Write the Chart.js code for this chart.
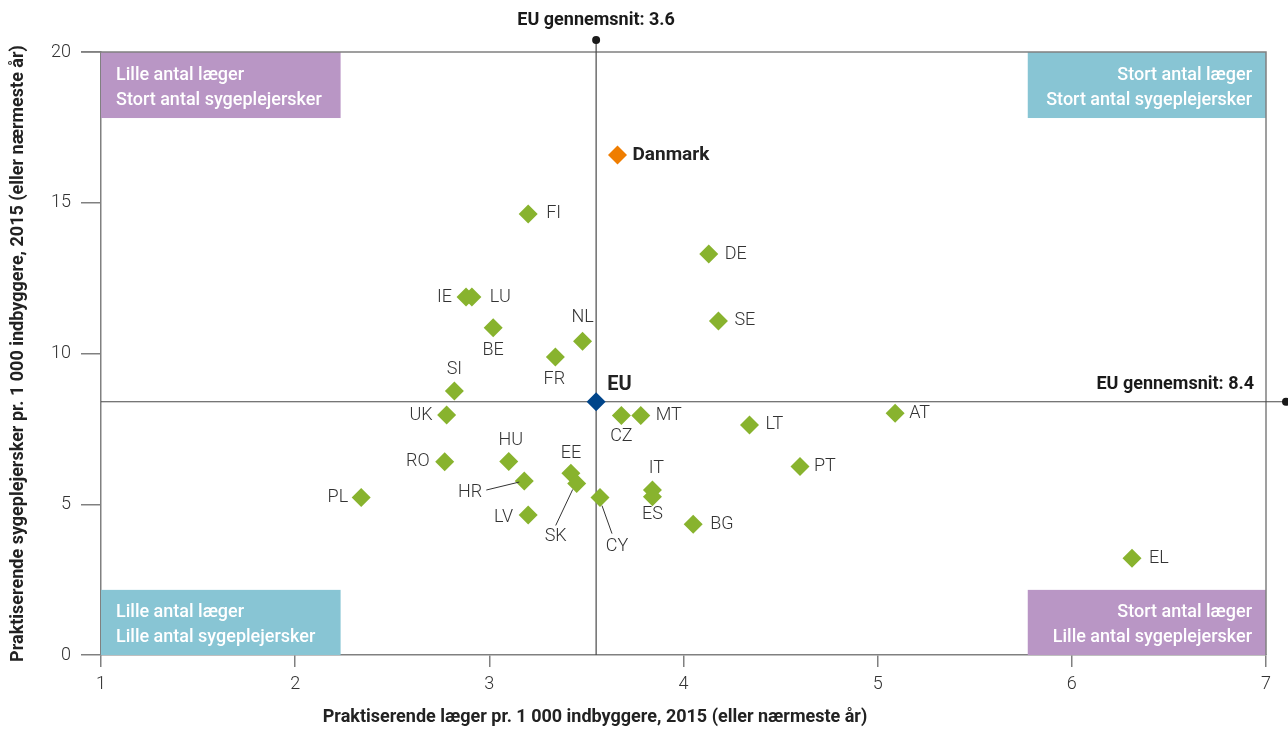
<!DOCTYPE html>
<html>
<head>
<meta charset="utf-8">
<script src="https://cdn.jsdelivr.net/npm/chart.js@4.4.1/dist/chart.umd.min.js"></script>
<style>
  html, body { margin: 0; padding: 0; background: #fff; }
</style>
</head>
<body>
<canvas id="chart" width="1288" height="729"></canvas>
<script>
// data
var countries = ['FI', 'DE', 'IE', 'LU', 'BE', 'NL', 'SE', 'FR', 'SI', 'UK', 'CZ', 'MT', 'LT', 'AT',
                 'PT', 'EL', 'HU', 'RO', 'PL', 'HR', 'LV', 'EE', 'SK', 'CY', 'IT', 'ES', 'BG'];
var doctors = [3.20, 4.13, 2.88, 2.91, 3.02, 3.48, 4.18, 3.34, 2.82, 2.78, 3.68, 3.78, 4.34, 5.09,
               4.60, 6.31, 3.10, 2.77, 2.34, 3.18, 3.20, 3.42, 3.45, 3.57, 3.84, 3.84, 4.05];
var nurses = [14.63, 13.30, 11.87, 11.87, 10.85, 10.41, 11.08, 9.88, 8.76, 7.96, 7.94, 7.94, 7.63, 8.02,
              6.25, 3.21, 6.42, 6.41, 5.22, 5.77, 4.64, 6.03, 5.69, 5.22, 5.47, 5.25, 4.34];
var dkDoctors = 3.66, dkNurses = 16.58;
var euDoctors = 3.55, euNurses = 8.4;
var xTicks = [1, 2, 3, 4, 5, 6, 7];
var yTicks = [0, 5, 10, 15, 20];

var xTitle = 'Praktiserende læger pr. 1 000 indbyggere, 2015 (eller nærmeste år)';
var yTitle = 'Praktiserende sygeplejersker pr. 1 000 indbyggere, 2015 (eller nærmeste år)';

// label placement: [dx, dy, align] in pixels from the marker
var labelPos = {
    FI: [18, 0, 'left'], DE: [16, 0, 'left'], IE: [-14, 0, 'right'], LU: [18, 0, 'left'],
    BE: [0, 23, 'center'], NL: [0, -24, 'center'], SE: [16, 0, 'left'], FR: [-1, 22, 'center'],
    SI: [0, -21, 'center'], UK: [-14, 0, 'right'], CZ: [0, 21, 'center'], MT: [15, 0, 'left'],
    LT: [16, 0, 'left'], AT: [14, 0, 'left'], PT: [14, 0, 'left'], EL: [17, 0, 'left'],
    HU: [2, -21, 'center'], RO: [-15, 0, 'right'], PL: [-13, 0, 'right'], HR: [-42, 11, 'right'],
    LV: [-15, 2, 'right'], EE: [0, -20, 'center'], SK: [-21, 53, 'center'], CY: [17, 49, 'center'],
    IT: [4, -22, 'center'], ES: [0, 18, 'center'], BG: [17, 0, 'left']
};
var leaders = { HR: [-38, 9, -5, 1], SK: [-21, 42, -4, 6], CY: [12, 36, 2, 8] };

var quadrants = [
    { x0: 1, x1: 2.234, y0: 17.81, y1: 20, color: '#b996c5', align: 'left',
      lines: ['Lille antal læger', 'Stort antal sygeplejersker'] },
    { x0: 5.773, x1: 7, y0: 17.81, y1: 20, color: '#88c5d4', align: 'right',
      lines: ['Stort antal læger', 'Stort antal sygeplejersker'] },
    { x0: 1, x1: 2.234, y0: 0, y1: 2.16, color: '#88c5d4', align: 'left',
      lines: ['Lille antal læger', 'Lille antal sygeplejersker'] },
    { x0: 5.773, x1: 7, y0: 0, y1: 2.16, color: '#b996c5', align: 'right',
      lines: ['Stort antal læger', 'Lille antal sygeplejersker'] }
];

var FONT = 'Roboto, "Open Sans", sans-serif';
var AXIS = '#808080';

var overlay = {
    id: 'overlay',
    beforeDatasetsDraw: function (chart) {
        var ctx = chart.ctx, a = chart.chartArea;
        var x = chart.scales.x, y = chart.scales.y;
        ctx.save();
        // quadrant boxes
        quadrants.forEach(function (q) {
            var l = x.getPixelForValue(q.x0), r = x.getPixelForValue(q.x1);
            var t = y.getPixelForValue(q.y1), b = y.getPixelForValue(q.y0);
            ctx.fillStyle = q.color;
            ctx.fillRect(l, t, r - l, b - t);
            ctx.fillStyle = '#fff';
            ctx.font = '500 18px ' + FONT;
            ctx.textBaseline = 'middle';
            ctx.textAlign = q.align;
            var tx = q.align === 'left' ? l + 15 : r - 14;
            ctx.fillText(q.lines[0], tx, t + 23);
            ctx.fillText(q.lines[1], tx, t + 48);
        });
        // frame top and right
        ctx.strokeStyle = AXIS;
        ctx.lineWidth = 1.5;
        ctx.beginPath();
        ctx.moveTo(a.left - 20, a.top);
        ctx.lineTo(a.right, a.top);
        ctx.lineTo(a.right, a.bottom);
        ctx.stroke();
        // EU average lines
        var ex = x.getPixelForValue(euDoctors), ey = y.getPixelForValue(euNurses);
        ctx.strokeStyle = '#4a4a4a';
        ctx.lineWidth = 1.2;
        ctx.beginPath();
        ctx.moveTo(ex, a.top - 12);
        ctx.lineTo(ex, a.bottom);
        ctx.moveTo(a.left, ey);
        ctx.lineTo(a.right + 20, ey);
        ctx.stroke();
        ctx.fillStyle = '#1a1a1a';
        ctx.beginPath();
        ctx.arc(ex, a.top - 12, 4, 0, Math.PI * 2);
        ctx.arc(a.right + 20, ey, 4, 0, Math.PI * 2);
        ctx.fill();
        ctx.font = 'bold 18px ' + FONT;
        ctx.textBaseline = 'middle';
        ctx.textAlign = 'center';
        ctx.fillText('EU gennemsnit: 3.6', ex, a.top - 32);
        ctx.textAlign = 'right';
        ctx.fillText('EU gennemsnit: 8.4', a.right - 12, ey - 17);
        ctx.restore();
    },
    afterDatasetsDraw: function (chart) {
        var ctx = chart.ctx, a = chart.chartArea;
        ctx.save();
        ctx.textBaseline = 'middle';
        // country labels
        var pts = chart.getDatasetMeta(2).data;
        ctx.font = '300 18px ' + FONT;
        ctx.fillStyle = '#333';
        ctx.strokeStyle = '#333';
        ctx.lineWidth = 1;
        countries.forEach(function (c, i) {
            var p = pts[i], o = labelPos[c];
            ctx.textAlign = o[2];
            ctx.fillText(c, p.x + o[0], p.y + o[1]);
            var ld = leaders[c];
            if (ld) {
                ctx.beginPath();
                ctx.moveTo(p.x + ld[0], p.y + ld[1]);
                ctx.lineTo(p.x + ld[2], p.y + ld[3]);
                ctx.stroke();
            }
        });
        // Danmark and EU labels
        var dk = chart.getDatasetMeta(1).data[0];
        var eu = chart.getDatasetMeta(0).data[0];
        ctx.font = 'bold 19px ' + FONT;
        ctx.fillStyle = '#222';
        ctx.textAlign = 'left';
        ctx.fillText('Danmark', dk.x + 15, dk.y);
        ctx.font = 'bold 20px ' + FONT;
        ctx.fillText('EU', eu.x + 11, eu.y - 17);
        // axis titles
        ctx.font = 'bold 18px ' + FONT;
        ctx.textAlign = 'center';
        ctx.fillText(xTitle, 595, 717);
        ctx.translate(18, (a.top + a.bottom) / 2);
        ctx.rotate(-Math.PI / 2);
        ctx.fillText(yTitle, 0, 0);
        ctx.restore();
    }
};

var chart = new Chart(document.getElementById('chart'), {
    type: 'scatter',
    data: {
        datasets: [
            {
                label: 'EU',
                data: [{ x: euDoctors, y: euNurses }],
                backgroundColor: '#00458a',
                borderWidth: 0
            },
            {
                label: 'Danmark',
                data: [{ x: dkDoctors, y: dkNurses }],
                backgroundColor: '#ef7d00',
                borderWidth: 0
            },
            {
                label: 'Lande',
                data: countries.map(function (c, i) { return { x: doctors[i], y: nurses[i] }; }),
                backgroundColor: '#88b32e',
                borderWidth: 0
            }
        ]
    },
    options: {
        responsive: false,
        animation: false,
        layout: { padding: { left: 0, right: 22, top: 52, bottom: 0 } },
        elements: { point: { pointStyle: 'rectRot', radius: 9.5, hoverRadius: 9.5 } },
        plugins: { legend: { display: false }, tooltip: { enabled: false } },
        scales: {
            x: {
                type: 'linear', min: 1, max: 7,
                afterBuildTicks: function (s) { s.ticks = xTicks.map(function (v) { return { value: v }; }); },
                afterFit: function (s) { s.height = 74; },
                ticks: { color: '#333', font: { family: FONT, size: 18, weight: '300' }, padding: 7 },
                grid: { drawOnChartArea: false, tickLength: 12, color: AXIS, lineWidth: 1.5 },
                border: { color: AXIS, width: 1.5 }
            },
            y: {
                type: 'linear', min: 0, max: 20,
                afterBuildTicks: function (s) { s.ticks = yTicks.map(function (v) { return { value: v }; }); },
                afterFit: function (s) { s.width = 101; },
                ticks: { color: '#333', font: { family: FONT, size: 18, weight: '300' }, padding: 10 },
                grid: { drawOnChartArea: false, tickLength: 20, color: AXIS, lineWidth: 1.5 },
                border: { color: AXIS, width: 1.5 }
            }
        }
    },
    plugins: [overlay]
});
</script>
</body>
</html>
